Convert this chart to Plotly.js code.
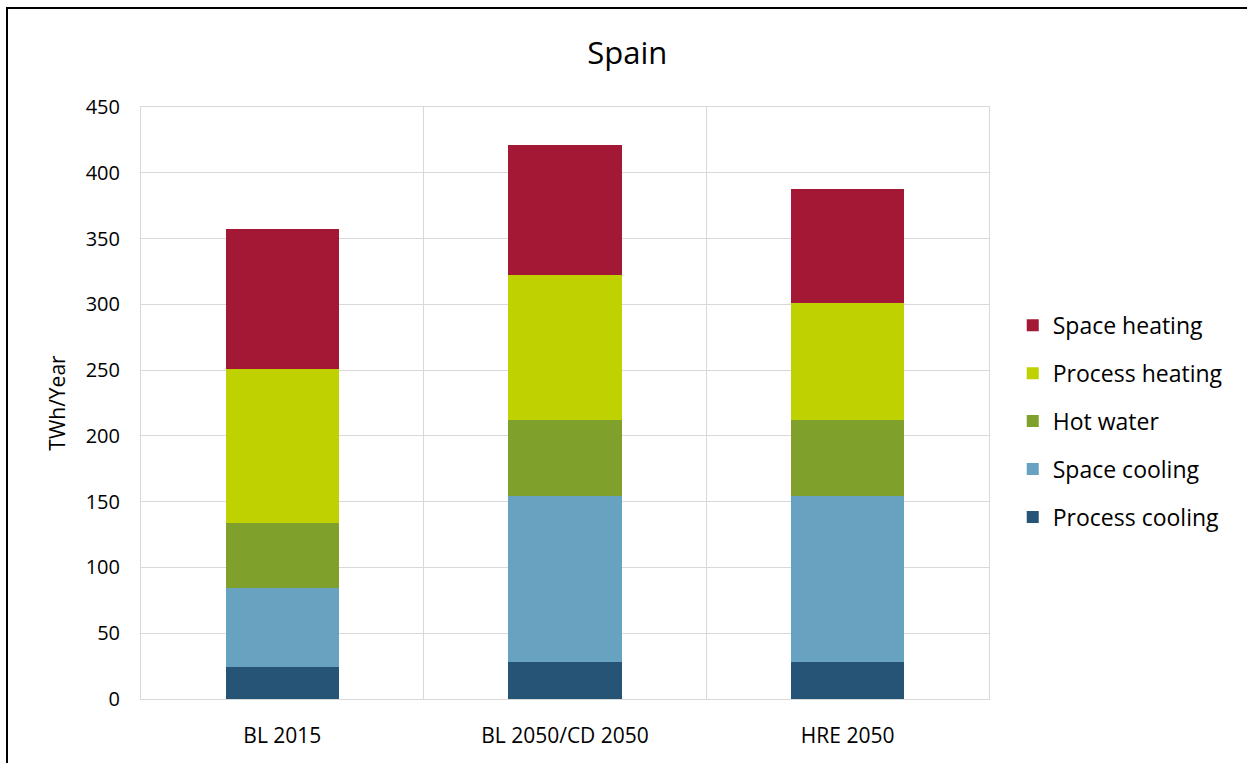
<!DOCTYPE html>
<html>
<head>
<meta charset="utf-8">
<script src="https://cdn.plot.ly/plotly-3.0.1.min.js"></script>
<style>
  html, body { margin: 0; padding: 0; background: #fff; overflow: hidden; }
  #chart { position: absolute; left: 0; top: 0; width: 1247px; height: 763px; }
  #frame { position: absolute; left: 6px; top: 7px; width: 1400px; height: 900px;
           border: 2px solid #000; pointer-events: none; }
</style>
</head>
<body>
<div id="chart"></div>
<div id="frame"></div>
<script>
const categories = ["BL 2015", "BL 2050/CD 2050", "HRE 2050"];
const processCooling = [24, 28, 28];
const spaceCooling   = [60, 126, 126];
const hotWater       = [50, 58, 58];
const processHeating = [117, 110, 89];
const spaceHeating   = [106, 99, 87];
const yTickVals = [0, 50, 100, 150, 200, 250, 300, 350, 400, 450];

const series = [
  { name: "Process cooling", y: processCooling, color: "#255477" },
  { name: "Space cooling",   y: spaceCooling,   color: "#67A3C1" },
  { name: "Hot water",       y: hotWater,       color: "#7FA02A" },
  { name: "Process heating", y: processHeating, color: "#BFD100" },
  { name: "Space heating",   y: spaceHeating,   color: "#A31834" }
];

const traces = series.map((s, i) => ({
  type: "bar",
  name: s.name,
  x: categories,
  y: s.y,
  legendgroup: s.name,
  legendrank: 1000 - i,
  marker: { color: s.color, line: { width: 0 } },
  hoverinfo: "name+y"
}));

const layout = {
  width: 1247, height: 763,
  margin: { l: 141, r: 258, t: 107, b: 64 },
  paper_bgcolor: "rgba(0,0,0,0)",
  plot_bgcolor: "#fff",
  barmode: "stack",
  bargap: 0.6,
  font: { family: "Open Sans, sans-serif", color: "#000" },
  title: { text: "Spain", font: { size: 31, color: "#000" }, x: 0.503, xref: "container", xanchor: "center", y: 0.93, yanchor: "middle" },
  xaxis: {
    type: "category",
    tickson: "boundaries",
    showgrid: true, gridcolor: "#d9d9d9", gridwidth: 1,
    showline: true, linecolor: "#d9d9d9", linewidth: 1, mirror: true,
    ticks: "",
    tickfont: { size: 21, color: "#000" },
    ticklabelstandoff: 18
  },
  yaxis: {
    range: [0, 450],
    tickvals: yTickVals,
    showgrid: true, gridcolor: "#d9d9d9", gridwidth: 1,
    showline: true, linecolor: "#d9d9d9", linewidth: 1, mirror: true,
    zeroline: false,
    ticks: "",
    tickfont: { size: 20, color: "#000" },
    ticklabelstandoff: 16,
    title: { text: "TWh/Year", font: { size: 21, color: "#000" }, standoff: 14 }
  },
  legend: {
    x: 1.028, xanchor: "left",
    y: 0.469, yanchor: "middle",
    traceorder: "grouped",
    tracegroupgap: 15,
    font: { size: 23, color: "#000" },
    bgcolor: "rgba(0,0,0,0)"
  },
  showlegend: true
};

Plotly.newPlot("chart", traces, layout, { displayModeBar: false, staticPlot: true });
</script>
</body>
</html>
